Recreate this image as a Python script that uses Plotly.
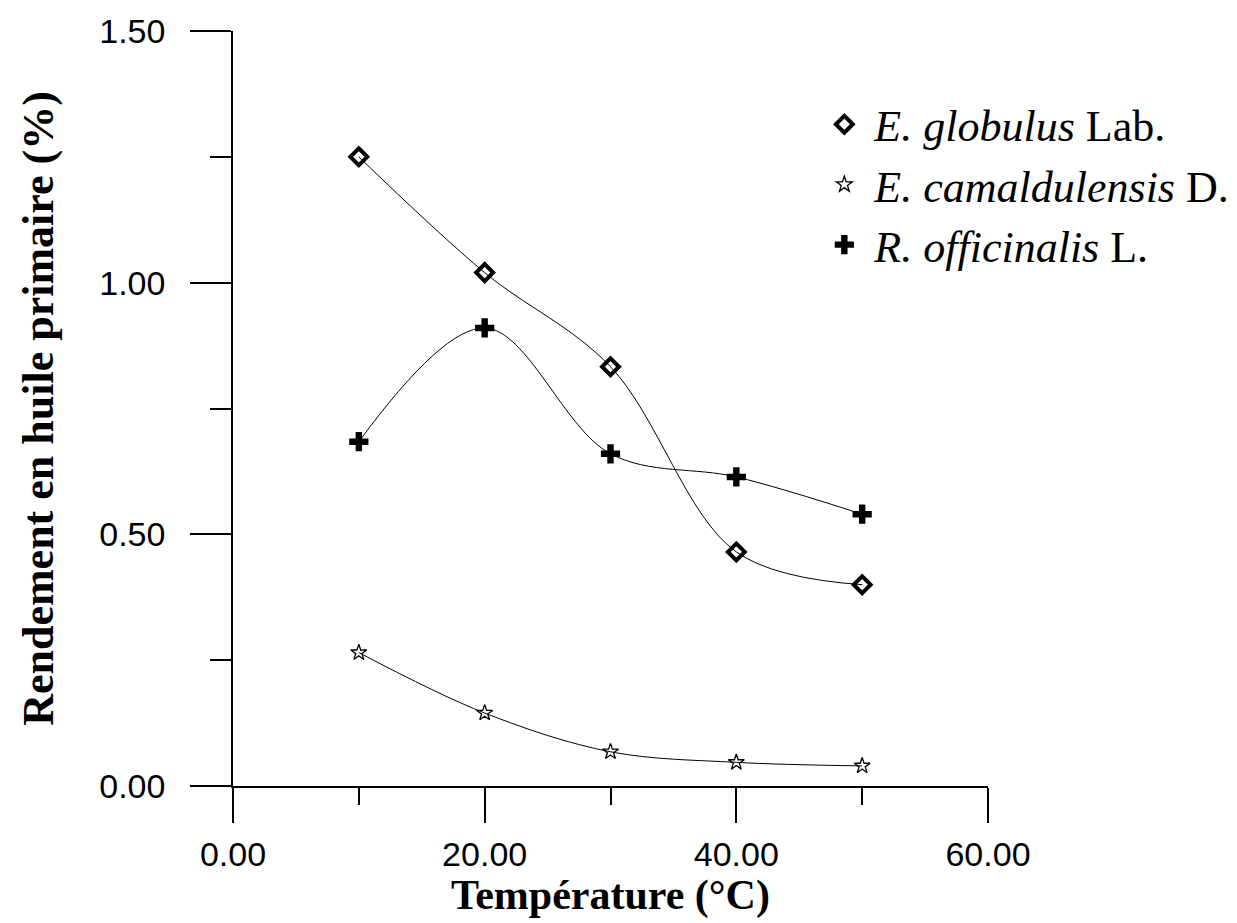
import plotly.graph_objects as go

temperature = [10, 20, 30, 40, 50]
globulus = [1.25, 1.02, 0.833, 0.465, 0.40]
camaldulensis = [0.265, 0.145, 0.068, 0.047, 0.040]
officinalis = [0.684, 0.91, 0.66, 0.614, 0.54]

names = ["<i>E. globulus</i> Lab.", "<i>E. camaldulensis</i> D.", "<i>R. officinalis</i> L."]
series = [globulus, camaldulensis, officinalis]
symbols = ["diamond-open", "star-open", "cross"]
sizes = [13, 12, 16]
mline = [4, 1.3, 0]

fig = go.Figure()
for i, (nm, ys) in enumerate(zip(names, series)):
    fig.add_trace(go.Scatter(x=temperature, y=ys, mode="lines",
                             line=dict(color="black", width=1, shape="spline", smoothing=1.0),
                             showlegend=False, hoverinfo="skip"))
for i, (nm, ys) in enumerate(zip(names, series)):
    fig.add_trace(go.Scatter(x=temperature, y=ys, mode="markers", name=nm,
                             legendgroup=f"g{i}",
                             marker=dict(symbol=symbols[i], size=sizes[i], color="black",
                                         line=dict(color="black", width=mline[i]))))

fig.add_annotation(text="<b>Température (°C)</b>", xref="paper", yref="paper",
                   x=0.5, y=-0.145, xanchor="center", yanchor="middle", showarrow=False,
                   font=dict(family="Liberation Serif", size=42, color="black"))

fig.update_layout(
    width=1237, height=923,
    paper_bgcolor="white", plot_bgcolor="white",
    margin=dict(l=233, r=249, t=31, b=137, autoexpand=False),
    font=dict(family="Liberation Sans", color="black"),
    legend=dict(x=0.770, y=0.923, xanchor="left", yanchor="top",
                font=dict(family="Liberation Serif", size=44, color="black"),
                itemwidth=50,
                traceorder="grouped", tracegroupgap=0, bgcolor="rgba(0,0,0,0)"),
    xaxis=dict(range=[0, 60], tick0=0, dtick=20, tickformat=".2f",
               showline=True, linecolor="black", linewidth=1.5, mirror=False,
               ticks="outside", ticklen=35, tickwidth=1.5, tickcolor="black",
               minor=dict(dtick=10, ticks="outside", ticklen=17, tickwidth=1.5, tickcolor="black"),
               showgrid=False, zeroline=False, ticklabelstandoff=2,
               tickfont=dict(family="Liberation Sans", size=34, color="black")),
    yaxis=dict(range=[0, 1.5], tick0=0, dtick=0.5, tickformat=".2f",
               showline=True, linecolor="black", linewidth=1.5, mirror=False,
               ticks="outside", ticklen=41, tickwidth=1.5, tickcolor="black",
               minor=dict(dtick=0.25, ticks="outside", ticklen=21, tickwidth=1.5, tickcolor="black"),
               showgrid=False, zeroline=False, ticklabelstandoff=18,
               tickfont=dict(family="Liberation Sans", size=34, color="black"),
               title=dict(text="<b>Rendement en huile primaire (%)</b>",
                          font=dict(family="Liberation Serif", size=44, color="black"),
                          standoff=32)),
)

fig.write_html("out.html")
